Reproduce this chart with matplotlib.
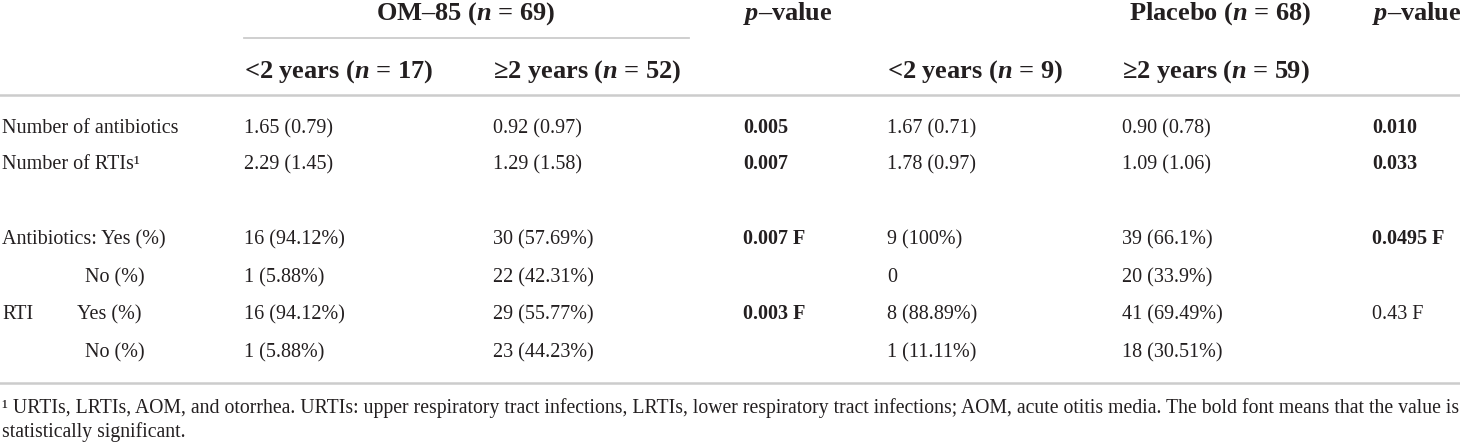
import matplotlib.pyplot as plt

plt.rcParams['font.family'] = ['Liberation Serif', 'DejaVu Serif']
plt.rcParams['mathtext.fontset'] = 'custom'
plt.rcParams['mathtext.rm'] = 'Liberation Serif:bold'
plt.rcParams['mathtext.it'] = 'Liberation Serif:bold:italic'

# table content
group_headers = ['OM–85 ($n$ = 69)', 'Placebo ($n$ = 68)']
sub_headers = ['<2 years ($n$ = 17)', '≥2 years ($n$ = 52)',
               '<2 years ($n$ = 9)', '≥2 years ($n$ = 59)']
p_header = '$p$–value'

row_labels = ['Number of antibiotics', 'Number of RTIs¹', '',
              'Antibiotics: Yes (%)', 'No (%)', 'Yes (%)', 'No (%)']
rti_label = 'RTI'
om_young = ['1.65 (0.79)', '2.29 (1.45)', '', '16 (94.12%)', '1 (5.88%)', '16 (94.12%)', '1 (5.88%)']
om_old = ['0.92 (0.97)', '1.29 (1.58)', '', '30 (57.69%)', '22 (42.31%)', '29 (55.77%)', '23 (44.23%)']
om_p = ['0.005', '0.007', '', '0.007 F', '', '0.003 F', '']
om_p_bold = [True, True, False, True, False, True, False]
pl_young = ['1.67 (0.71)', '1.78 (0.97)', '', '9 (100%)', '0', '8 (88.89%)', '1 (11.11%)']
pl_old = ['0.90 (0.78)', '1.09 (1.06)', '', '39 (66.1%)', '20 (33.9%)', '41 (69.49%)', '18 (30.51%)']
pl_p = ['0.010', '0.033', '', '0.0495 F', '', '0.43 F', '']
pl_p_bold = [True, True, False, True, False, False, False]

footnote = ['¹ URTIs, LRTIs, AOM, and otorrhea. URTIs: upper respiratory tract infections, LRTIs, lower respiratory '
            'tract infections; AOM, acute otitis media. The bold font means that the value is',
            'statistically significant.']

fig = plt.figure(figsize=(14.6, 4.43), dpi=100)
ax = fig.add_axes([0, 0, 1, 1])
ax.set_xlim(0, 1460)
ax.set_ylim(443, 0)
ax.axis('off')

txt = '#231f20'
line_c = '#cccccc'
body = 14.5
head = 19

# column positions and baselines (px)
col_x = [244, 493, 743, 887, 1122, 1372]
row_y = [133, 169, 206, 244, 282, 319, 357]

# header rows
ax.text(466, 20, group_headers[0], fontsize=head, fontweight='bold', ha='center', va='baseline', color=txt)
ax.text(1220, 20, group_headers[1], fontsize=head, fontweight='bold', ha='center', va='baseline', color=txt)
ax.text(col_x[2], 20, p_header, fontsize=head, fontweight='bold', ha='left', va='baseline', color=txt)
ax.text(col_x[5], 20, p_header, fontsize=head, fontweight='bold', ha='left', va='baseline', color=txt)
for x, s in zip([col_x[0], col_x[1], col_x[3], col_x[4]], sub_headers):
    ax.text(x, 78, s, fontsize=head, fontweight='bold', ha='left', va='baseline', color=txt)

ax.plot([244, 689], [38, 38], color=line_c, lw=1.3)
ax.plot([0, 1460], [95, 95], color=line_c, lw=1.8)
ax.plot([0, 1460], [383, 383], color=line_c, lw=1.8)

# body rows
for i, y in enumerate(row_y):
    lab = row_labels[i]
    lx = 2
    if lab == 'No (%)':
        lx = 85
    elif lab == 'Yes (%)':
        lx = 77
        ax.text(2, y, rti_label, fontsize=body, ha='left', va='baseline', color=txt)
    ax.text(lx, y, lab, fontsize=body, ha='left', va='baseline', color=txt)
    cells = [om_young[i], om_old[i], om_p[i], pl_young[i], pl_old[i], pl_p[i]]
    bolds = [False, False, om_p_bold[i], False, False, pl_p_bold[i]]
    for x, s, b in zip(col_x, cells, bolds):
        ax.text(x, y, s, fontsize=body, fontweight='bold' if b else 'normal',
                ha='left', va='baseline', color=txt)

for y, s in zip([413, 437], footnote):
    ax.text(2, y, s, fontsize=14.2, ha='left', va='baseline', color=txt)

fig.savefig('out.png', dpi=100)
